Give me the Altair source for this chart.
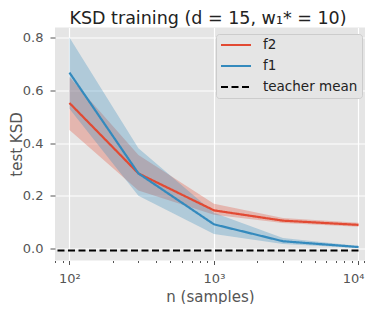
import altair as alt
import pandas as pd

# ---- data ----
n_samples = [100, 300, 1000, 3000, 10000]
f2_mean = [0.552, 0.285, 0.145, 0.106, 0.090]
f2_low = [0.450, 0.220, 0.128, 0.097, 0.083]
f2_high = [0.650, 0.355, 0.170, 0.116, 0.098]
f1_mean = [0.667, 0.285, 0.092, 0.028, 0.006]
f1_low = [0.530, 0.200, 0.055, 0.018, 0.002]
f1_high = [0.800, 0.380, 0.136, 0.040, 0.010]
teacher_mean = -0.007
series_names = ["f2", "f1", "teacher mean"]
series_colors = ["#E24A33", "#348ABD", "#000000"]
series_dash = [[1, 0], [1, 0], [7, 3.5]]
x_major = [100, 1000, 10000]
x_major_labels = ["10²", "10³", "10⁴"]
x_minor = [80, 90, 200, 300, 400, 500, 600, 700, 800, 900,
           2000, 3000, 4000, 5000, 6000, 7000, 8000, 9000, 11000]
y_ticks = [0.0, 0.2, 0.4, 0.6, 0.8]

rows = []
for name, m, lo, hi in [("f2", f2_mean, f2_low, f2_high), ("f1", f1_mean, f1_low, f1_high)]:
    for n, a, b, c in zip(n_samples, m, lo, hi):
        rows.append({"n": n, "series": name, "mean": a, "low": b, "high": c})
df = pd.DataFrame(rows)
teacher_df = pd.DataFrame({"series": ["teacher mean"], "value": [teacher_mean], "n": [max(n_samples)]})

grey = "#555555"
major_test = " || ".join(f"datum.value == {v}" for v in x_major)
last_test = f"datum.value == {x_major[-1]}"
label_expr = " : ".join(f"datum.value == {v} ? '{l}'" for v, l in zip(x_major, x_major_labels)) + " : ''"

color_scale = alt.Scale(domain=series_names, range=series_colors)
dash_scale = alt.Scale(domain=series_names, range=series_dash)

x_enc = alt.X(
    "n:Q",
    scale=alt.Scale(type="log", domain=[10 ** 1.9, 10 ** 4.045], nice=False),
    axis=alt.Axis(
        title="n (samples)",
        values=sorted(x_major + x_minor),
        labelExpr=label_expr,
        tickSize={"condition": {"test": major_test, "value": 4}, "value": 2},
        gridOpacity={"condition": {"test": major_test, "value": 1}, "value": 0},
        labelAlign={"condition": {"test": last_test, "value": "right"}, "value": "center"},
        labelOffset={"condition": {"test": last_test, "value": 5.5}, "value": 0},
        labelFlush=False,
        labelOverlap=False,
        labelBaseline="alphabetic",
        labelPadding=17.5,
        titleBaseline="alphabetic",
        titleY=40.5,
        titleFontSize=15,
    ),
)
y_scale = alt.Scale(domain=[-0.045, 0.838], nice=False, zero=False)
y_axis = alt.Axis(title="test KSD", values=y_ticks, format=".1f", labelPadding=7,
                  titleBaseline="alphabetic", titleX=-34, titleY=116.5, titleFontSize=15)

base = alt.Chart(df)
bands = base.mark_area(opacity=0.3).encode(
    x=x_enc,
    y=alt.Y("low:Q", scale=y_scale, axis=y_axis),
    y2="high:Q",
    fill=alt.Fill("series:N", scale=alt.Scale(domain=series_names[:2], range=series_colors[:2]),
                  legend=None),
    detail="series:N",
)
lines = base.mark_line(strokeWidth=2.2).encode(
    x=x_enc,
    y=alt.Y("mean:Q", scale=y_scale, axis=y_axis),
    color=alt.Color("series:N", scale=color_scale, legend=alt.Legend(title=None)),
    strokeDash=alt.StrokeDash("series:N", scale=dash_scale, legend=alt.Legend(title=None)),
)
teacher = alt.Chart(teacher_df).mark_rule(strokeWidth=2).encode(
    x=x_enc,
    x2=alt.value(0),
    y=alt.Y("value:Q", scale=y_scale, axis=y_axis),
    color=alt.Color("series:N", scale=color_scale, legend=alt.Legend(title=None)),
    strokeDash=alt.StrokeDash("series:N", scale=dash_scale, legend=alt.Legend(title=None)),
)

chart = alt.layer(bands, lines, teacher).properties(
    width=310,
    height=233,
    title=alt.Title("KSD training (d = 15, w₁* = 10)", fontSize=17.5, fontWeight="normal",
                    color="#222222", font="DejaVu Sans", offset=0, dx=-2),
    autosize=alt.AutoSizeParams(type="none"),
    padding={"left": 47, "top": 19.5, "right": 0, "bottom": 43.5},
).configure_view(
    fill="#E5E5E5", stroke=None
).configure_axis(
    domain=False, gridColor="#FFFFFF", gridWidth=1.2, tickColor=grey, tickWidth=1,
    labelColor=grey, labelFontSize=13, labelFont="DejaVu Sans",
    titleColor=grey, titleFontSize=15.5, titleFont="DejaVu Sans", titleFontWeight="normal",
).configure_legend(
    orient="none", legendX=161, legendY=6.5,
    fillColor="#E5E5E5", strokeColor="#CCCCCC", cornerRadius=3, padding=4,
    labelFont="DejaVu Sans", labelFontSize=13.5, labelColor="#222222",
    symbolType="M-2.5,0H2.5", symbolSize=144, symbolStrokeWidth=2,
    symbolOffset=9, labelOffset=20, rowPadding=7,
)

chart.save("out.html", embed_options={"renderer": "svg", "actions": False})
